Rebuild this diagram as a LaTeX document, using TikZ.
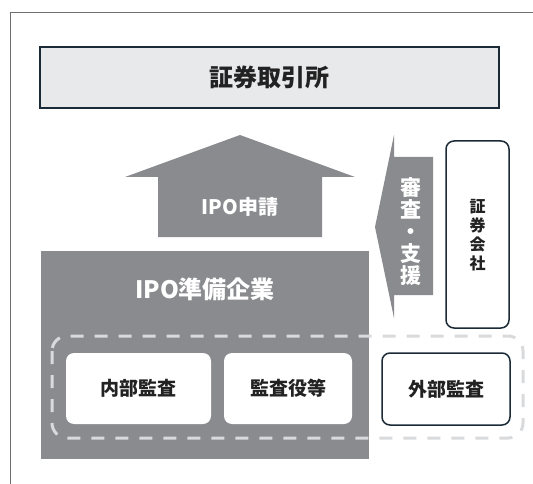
\documentclass[tikz,border=0pt]{standalone}
\usepackage{fontspec}
\setmainfont{Noto Sans CJK JP}
\definecolor{navy}{HTML}{1B2A37}
\definecolor{midgray}{HTML}{8A8B8F}
\definecolor{pale}{HTML}{E8E9EB}
\definecolor{dashgray}{HTML}{D9DADC}
\definecolor{ink}{HTML}{222222}
\definecolor{framegray}{HTML}{6E6E6E}
\tikzset{
  x=1pt, y=-1pt,
  lbl/.style={font=\bfseries\fontsize{#1}{#1}\selectfont, inner sep=0pt},
  whitebox/.style={fill=white, rounded corners=8pt, draw=none},
  navybox/.style={fill=white, rounded corners=8pt, draw=navy, line width=1.5pt},
}
\begin{document}
\begin{tikzpicture}
\useasboundingbox (0,0) rectangle (533,484);
% frame
\draw[framegray, line width=1pt] (533,13) -- (10,13) -- (10,484);
% exchange
\draw[fill=pale, draw=navy, line width=1.8pt] (40,47) rectangle (499,108);
\node[lbl=24, text=ink] (exch) at (269.5,77.5) {証券取引所};
% IPO application arrow
\fill[midgray] (240,135) -- (355,177) -- (322,177) -- (322,237) -- (158,237) -- (158,177) -- (125,177) -- cycle;
\node[lbl=20, text=white] (apply) at (240,207) {IPO申請};
% IPO company
\fill[midgray] (41,251) rectangle (369,459);
\node[lbl=24, text=white] (company) at (205,289) {IPO準備企業};
% review/support arrow
\fill[midgray] (375,227) -- (394,135) -- (394,157) -- (433,157) -- (433,295) -- (394,295) -- (394,318) -- cycle;
\node[text=white, align=center, inner sep=0pt, font=\bfseries\fontsize{21}{22}\selectfont] (review) at (411,232) {審\\査\\・\\支\\援};
% securities company
\draw[navybox] (446,141) rectangle (509,328);
\node[text=ink, align=center, inner sep=0pt, font=\bfseries\fontsize{16}{19}\selectfont] (broker) at (477.5,235) {証\\券\\会\\社};
% dashed group
\draw[dashgray, line width=3pt, dash pattern=on 13pt off 11pt, rounded corners=15pt] (52,336) rectangle (523,438);
% audit boxes
\draw[whitebox] (66,353) rectangle (211,424);
\node[lbl=19, text=ink] (internal) at (138.5,388.5) {内部監査};
\draw[whitebox] (224,353) rectangle (352,424);
\node[lbl=19, text=ink] (auditor) at (288,388.5) {監査役等};
\draw[navybox] (382,353) rectangle (510,425);
\node[lbl=19, text=ink] (external) at (446,389) {外部監査};
\end{tikzpicture}
\end{document}
